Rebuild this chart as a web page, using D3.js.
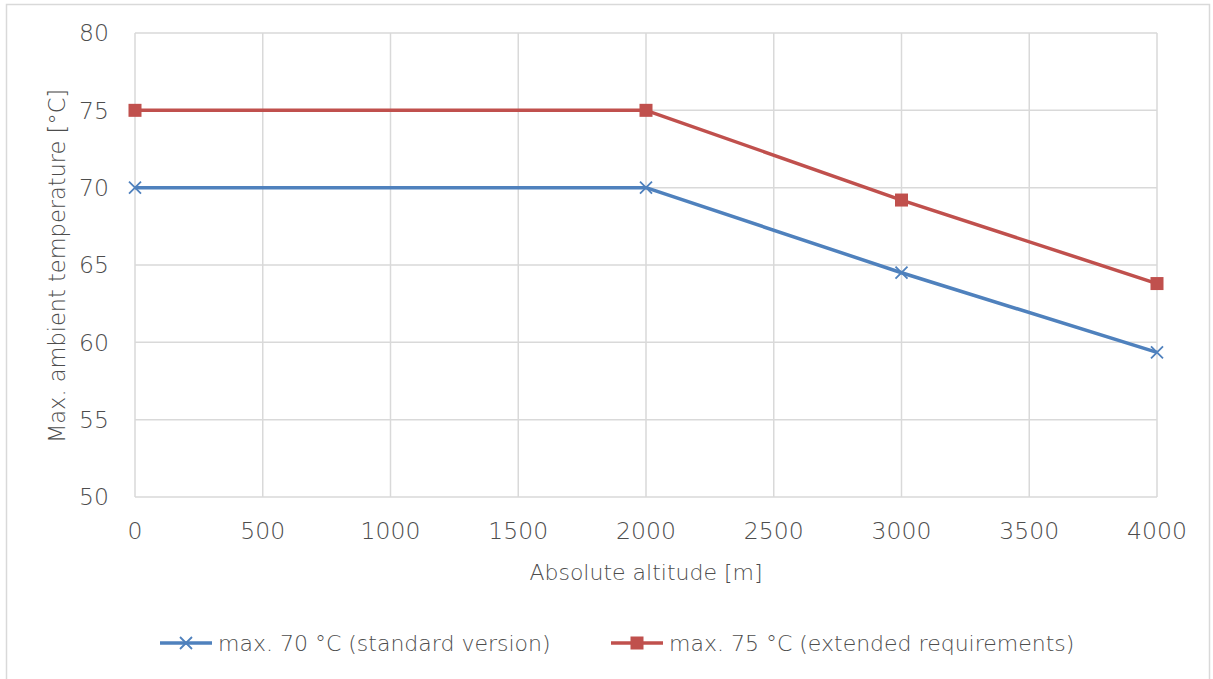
<!DOCTYPE html>
<html>
<head>
<meta charset="utf-8">
<script src="https://d3js.org/d3.v7.min.js"></script>
<style>
  body { margin: 0; background: #fff; }
  svg text { font-family: "DejaVu Sans", sans-serif; font-weight: 300; fill: #4d4d4d; }
</style>
</head>
<body>
<svg id="chart"></svg>
<script>
// altitude in metres, temperature in degC
var altitudes = [0, 2000, 3000, 4000];
var standardTemps = [70, 70, 64.5, 59.35];
var extendedTemps = [75, 75, 69.2, 63.8];
var xTicks = [0, 500, 1000, 1500, 2000, 2500, 3000, 3500, 4000];
var yTicks = [50, 55, 60, 65, 70, 75, 80];
var seriesNames = ['max. 70 °C (standard version)', 'max. 75 °C (extended requirements)'];

var width = 1213, height = 679;
var m = {left: 135, right: 1157, top: 33, bottom: 497};
var blue = '#4f81bd', red = '#c0504d';

var svg = d3.select('#chart')
  .attr('width', width)
  .attr('height', height);

// chart frame
svg.append('rect')
  .attr('x', 6.5).attr('y', 4.5)
  .attr('width', width - 10).attr('height', height + 10)
  .attr('fill', '#fff').attr('stroke', '#d9d9d9').attr('stroke-width', 1.5);

var x = d3.scaleLinear().domain([0, 4000]).range([m.left, m.right]);
var y = d3.scaleLinear().domain([50, 80]).range([m.bottom, m.top]);

// gridlines
svg.append('g').selectAll('line')
  .data(xTicks)
  .enter().append('line')
    .attr('x1', function (d) { return x(d); })
    .attr('x2', function (d) { return x(d); })
    .attr('y1', m.top).attr('y2', m.bottom)
    .attr('stroke', '#d9d9d9').attr('stroke-width', 1.5);

svg.append('g').selectAll('line')
  .data(yTicks)
  .enter().append('line')
    .attr('x1', m.left).attr('x2', m.right)
    .attr('y1', function (d) { return y(d); })
    .attr('y2', function (d) { return y(d); })
    .attr('stroke', '#d9d9d9').attr('stroke-width', 1.5);

// tick labels
svg.append('g').selectAll('text')
  .data(yTicks)
  .enter().append('text')
    .attr('x', 109)
    .attr('y', function (d) { return y(d); })
    .attr('dy', '0.35em')
    .attr('text-anchor', 'end')
    .attr('font-size', 23.5)
    .text(function (d) { return d; });

svg.append('g').selectAll('text')
  .data(xTicks)
  .enter().append('text')
    .attr('x', function (d) { return x(d); })
    .attr('y', 539)
    .attr('text-anchor', 'middle')
    .attr('font-size', 23.5)
    .text(function (d) { return d; });

// axis titles
svg.append('text')
  .attr('x', (m.left + m.right) / 2)
  .attr('y', 580)
  .attr('text-anchor', 'middle')
  .attr('font-size', 22)
  .text('Absolute altitude [m]');

svg.append('text')
  .attr('transform', 'translate(65,266) rotate(-90)')
  .attr('text-anchor', 'middle')
  .attr('font-size', 22.5)
  .text('Max. ambient temperature [°C]');

var line = d3.line()
  .x(function (d) { return x(d[0]); })
  .y(function (d) { return y(d[1]); });

function drawMarker(g, kind, color, cx, cy) {
  if (kind === 'square') {
    g.append('rect')
      .attr('x', cx - 6.5).attr('y', cy - 6.5)
      .attr('width', 13).attr('height', 13)
      .attr('fill', color);
  } else {
    var s = 6;
    g.append('path')
      .attr('d', 'M' + (cx - s) + ',' + (cy - s) + 'L' + (cx + s) + ',' + (cy + s) +
                 'M' + (cx - s) + ',' + (cy + s) + 'L' + (cx + s) + ',' + (cy - s))
      .attr('stroke', color).attr('stroke-width', 1.8).attr('fill', 'none');
  }
}

var series = [
  {name: seriesNames[0], values: standardTemps, color: blue, marker: 'cross'},
  {name: seriesNames[1], values: extendedTemps, color: red, marker: 'square'}
];

series.forEach(function (s) {
  var pts = altitudes.map(function (a, i) { return [a, s.values[i]]; });
  var g = svg.append('g');
  g.append('path')
    .datum(pts)
    .attr('d', line)
    .attr('fill', 'none')
    .attr('stroke', s.color)
    .attr('stroke-width', 3.5)
    .attr('stroke-linejoin', 'round');
  pts.forEach(function (p) {
    drawMarker(g, s.marker, s.color, x(p[0]), y(p[1]));
  });
});

// legend
var legendX = [160, 611];
series.forEach(function (s, i) {
  var g = svg.append('g');
  var lx = legendX[i], ly = 643;
  g.append('line')
    .attr('x1', lx).attr('x2', lx + 52)
    .attr('y1', ly).attr('y2', ly)
    .attr('stroke', s.color).attr('stroke-width', 3.5);
  drawMarker(g, s.marker, s.color, lx + 26, ly);
  g.append('text')
    .attr('x', lx + 58)
    .attr('y', ly)
    .attr('dy', '0.35em')
    .attr('font-size', 22)
    .text(s.name);
});
</script>
</body>
</html>
